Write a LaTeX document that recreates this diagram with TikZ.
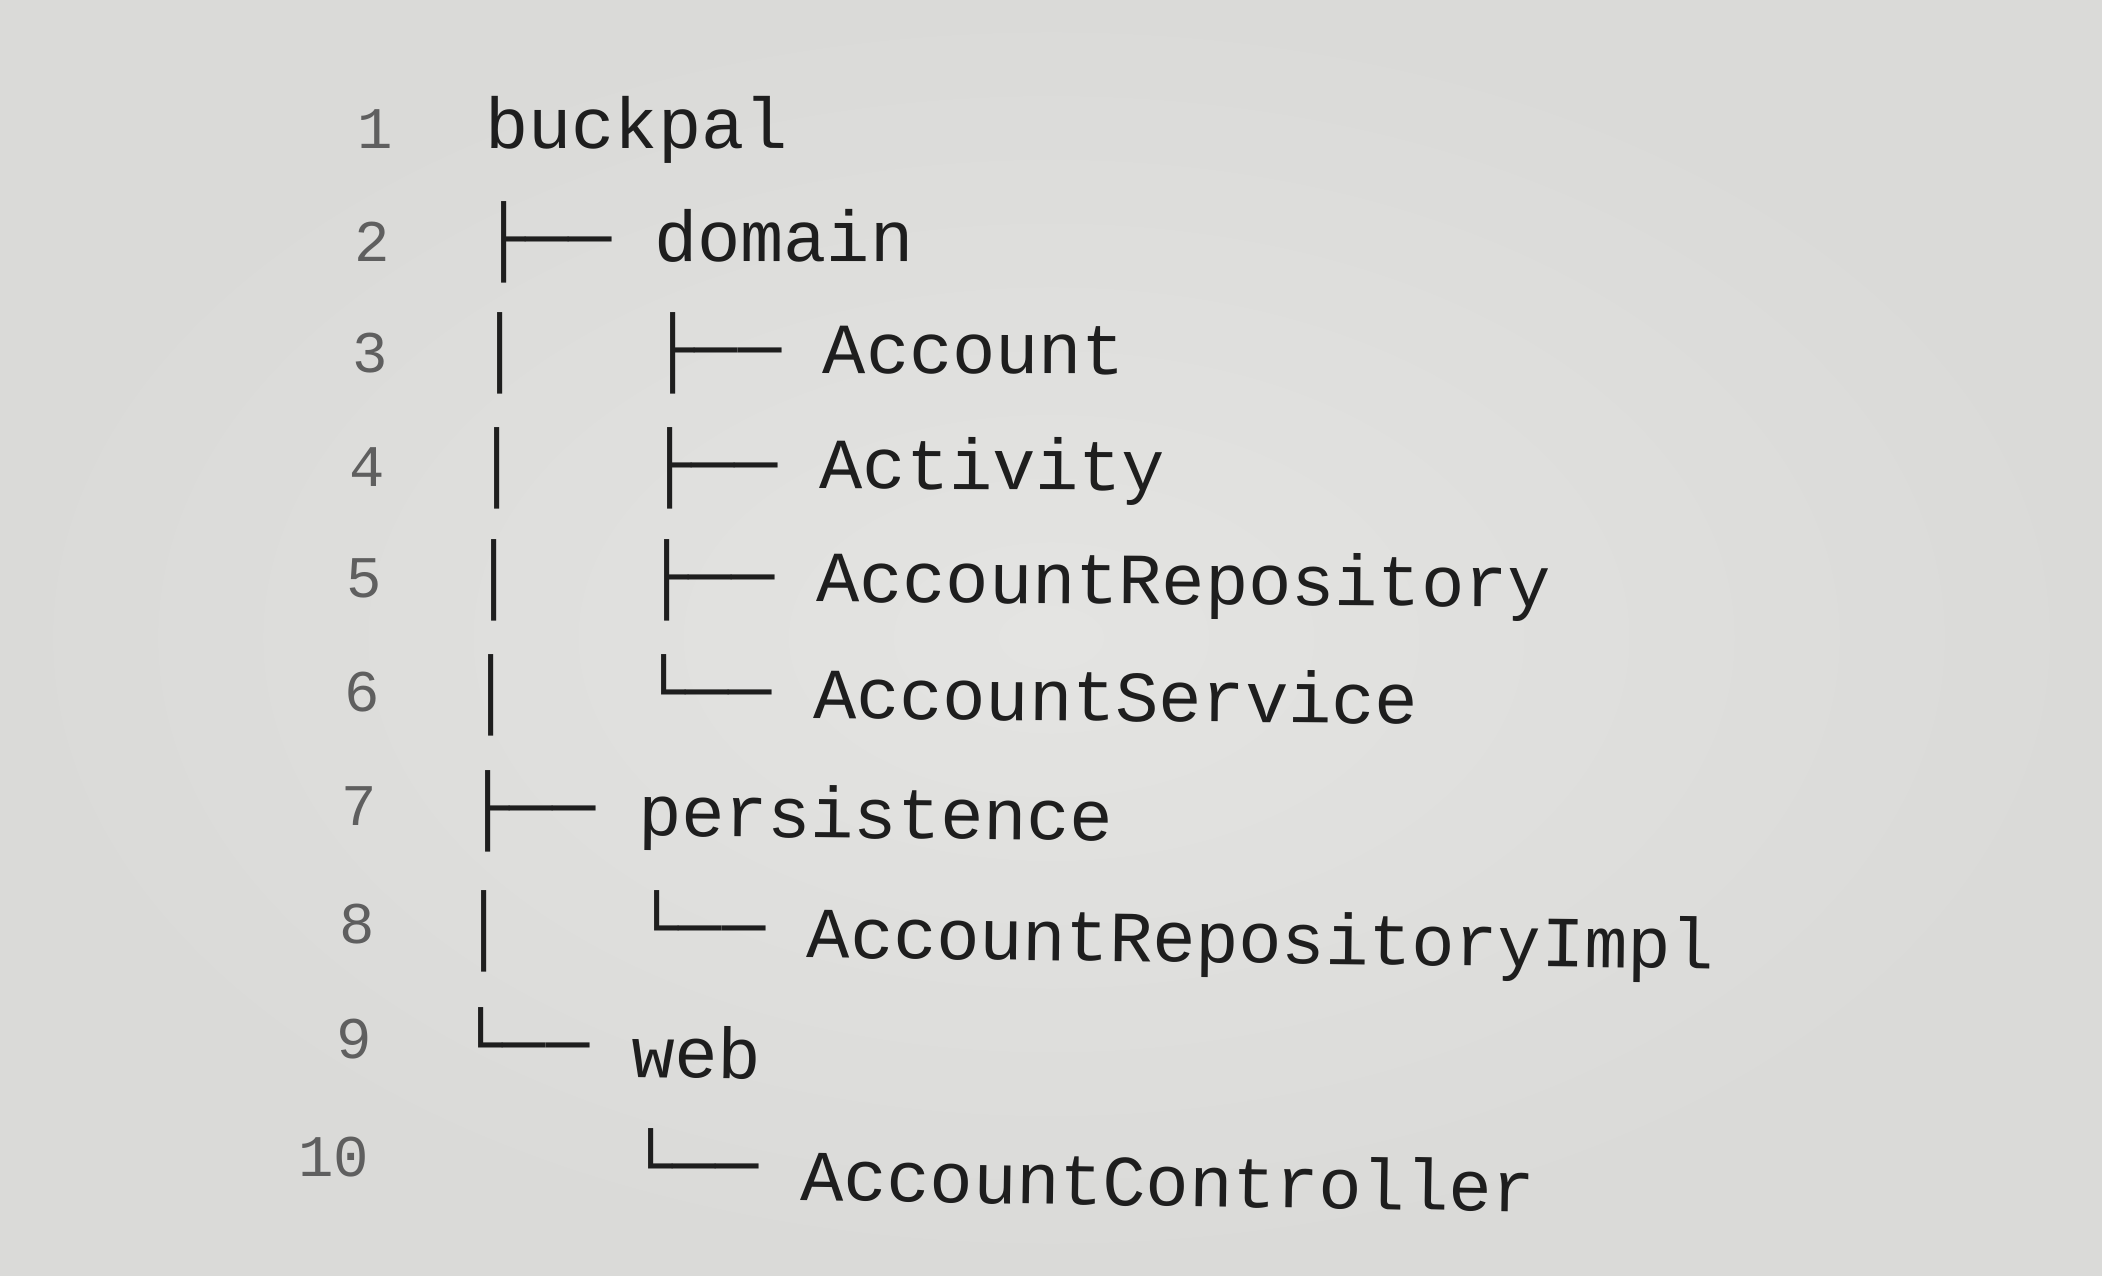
\documentclass[tikz,border=0pt]{standalone}
\usepackage{fontspec}
\setmonofont{Liberation Mono}

\definecolor{paper}{RGB}{228,228,226}
\definecolor{paperedge}{RGB}{218,218,216}
\definecolor{ink}{RGB}{30,30,30}
\definecolor{numink}{RGB}{95,95,95}

\begin{document}
\begin{tikzpicture}[
      x=1pt, y=-1pt,
      lineno/.style={anchor=base east, inner sep=0pt, text=numink,
        font=\ttfamily\fontsize{59}{60}\selectfont},
      branch/.style={anchor=base west, inner sep=0pt, text=ink,
        font=\ttfamily\fontsize{72}{80}\selectfont},
      entry/.style={branch}
    ]

    % --- paper ---
    \useasboundingbox (0,0) rectangle (2102,1275);
    \shade[inner color=paper, outer color=paperedge] (0,0) rectangle (2102,1275);

    % --- listing: line / baseline / column of name / tree glyphs / name ---
    \foreach \i/\y/\c/\pre/\name in {
        1/148/0/{}/buckpal,
        2/261/4/{├──}/domain,
        3/372/8/{│~~~├──}/Account,
        4/486/8/{│~~~├──}/Activity,
        5/597/8/{│~~~├──}/AccountRepository,
        6/711/8/{│~~~└──}/AccountService,
        7/825/4/{├──}/persistence,
        8/943/8/{│~~~└──}/AccountRepositoryImpl,
        9/1058/4/{└──}/web,
        10/1176/8/{~~~~└──}/AccountController} {
      \node[lineno] (n\i) at ({393-2.6*(\i-1)}, \y) {\i};
      \node[branch] (b\i) at ({485-3.2*(\i-1)}, {\y+0.15*(\i-1)^2}) {\pre};
      \node[entry, rotate={-0.1*(\i-1)}] (e\i)
        at ({485-3.2*(\i-1)+43*\c}, {\y+0.3*(\i-1)^2}) {\name};
    }

  \end{tikzpicture}
\end{document}
